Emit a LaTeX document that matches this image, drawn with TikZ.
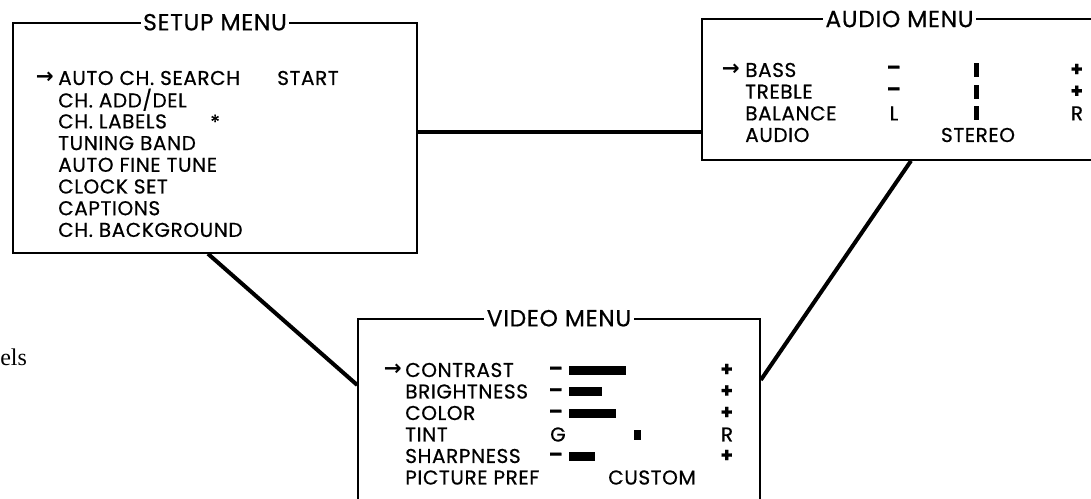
\documentclass[tikz,border=0pt]{standalone}
\usepackage{fontspec}
\setmainfont{Poppins}[FakeBold=0.6, LetterSpace=3]
\newfontfamily\symfont{DejaVu Sans}
\newfontfamily\serifpart{Liberation Serif}
\usetikzlibrary{positioning}

\newcommand\minussign{\textbf{--}}
\newcommand\plussign{\textbf{+}}

\tikzset{
  menubox/.style={draw, line width=1.2pt, inner sep=0pt},
  menutitle/.style={fill=white, inner sep=2pt, font=\fontsize{17.5}{17.5}\selectfont},
  item/.style={anchor=west, inner sep=0pt, font=\fontsize{15}{15}\selectfont},
  sign/.style={inner sep=0pt, font=\fontsize{15}{15}\selectfont},
  pointer/.style={anchor=east, inner sep=0pt, font=\symfont\bfseries\fontsize{16}{16}\selectfont},
  link/.style={line width=3pt},
}

\begin{document}
\begin{tikzpicture}[x=0.75pt,y=0.75pt,yscale=-1,xscale=1]
\path[use as bounding box] (0,0) rectangle (1091,499);
\clip (0,0) rectangle (1091,499);

%Boxes
\node[menubox, minimum width=303pt, minimum height=172.5pt] (setup) at (215,138) {};
\node[menubox, minimum width=306pt, minimum height=105.75pt] (audio) at (906,89.5) {};
\node[menubox, minimum width=301.5pt, minimum height=165.75pt] (video) at (559,429.5) {};

%Titles
\node[menutitle] (setuptitle) at (setup.north) {SETUP MENU};
\node[menutitle] (audiotitle) at (899.5,19) {AUDIO MENU};
\node[menutitle] (videotitle) at (video.north) {VIDEO MENU};

%Connectors
\draw[link] (setup.east |- 0,132) -- (audio.west |- 0,132);
\draw[link] (setup.south -| 208,0) -- (video.west |- 0,385);
\draw[link] (audio.south -| 911,0) -- (video.east |- 0,380);

%Setup menu
\node[pointer] (sptr) at (54,78) {→};
\foreach \name [count=\i] in {AUTO CH. SEARCH, CH. ADD/DEL, CH. LABELS, TUNING BAND, AUTO FINE TUNE, CLOCK SET, CAPTIONS, CH. BACKGROUND}
  \node[item] (s\i) at (58,{78+21.7*(\i-1)}) {\name};
\node[item] (sstart) at (277,78) {START};
\node[item] (sstar) at (210,122) {*};

%Audio menu
\node[pointer] (aptr) at (740,70) {→};
\foreach \name/\lo/\hi [count=\i] in {BASS/\minussign/\plussign, TREBLE/\minussign/\plussign, BALANCE/L/R}{
  \node[item] (a\i) at (745,{70+21.7*(\i-1)}) {\name};
  \node[sign] (alo\i) at (894,{70+21.7*(\i-1)}) {\lo};
  \node[sign] (ahi\i) at (1077,{70+21.7*(\i-1)}) {\hi};
  \fill (974,{63+21.7*(\i-1)}) rectangle (978.5,{77+21.7*(\i-1)});
}
\node[item] (a4) at (745,135) {AUDIO};
\node[sign] (astereo) at (978,135) {STEREO};

%Video menu
\node[pointer] (vptr) at (402,370) {→};
\foreach \name/\len [count=\i] in {CONTRAST/626, BRIGHTNESS/602, COLOR/616, SHARPNESS/595}{
  \pgfmathsetmacro{\yy}{370+21.5*(\i-1)+21.5*int(\i/4)}
  \node[item] (v\i) at (405,\yy) {\name};
  \node[sign] (vlo\i) at (556,\yy+1) {\minussign};
  \node[sign] (vhi\i) at (727,\yy) {\plussign};
  \fill (569,\yy-4.5) rectangle (\len,\yy+4.5);
}
\node[item] (vtint) at (405,434.5) {TINT};
\node[sign] (vg) at (558,434.5) {G};
\node[sign] (vr) at (727,434.5) {R};
\fill (634,429.5) rectangle (641,439.5);
\node[item] (vpref) at (405,477.5) {PICTURE PREF};
\node[sign] (vcustom) at (652,477.5) {CUSTOM};

%Cut text
\node[anchor=base west, inner sep=0pt, font=\serifpart\fontsize{18}{18}\selectfont] (cut) at (0,365) {els};

\end{tikzpicture}
\end{document}
